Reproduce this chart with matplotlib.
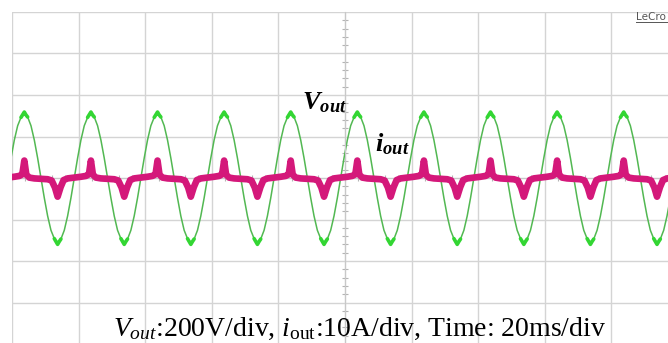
import numpy as np
import matplotlib.pyplot as plt
from matplotlib.lines import Line2D

# 波形データ (1周期分, 時間 ms)
cycle_t = [0, 1, 2, 3, 4, 4.5, 5, 5.5, 6, 7, 8, 9, 10,
           11, 12, 13, 14, 14.5, 15, 15.5, 16, 17, 18, 19, 20]
cycle_v = [0, 96, 183, 252, 292, 305, 318, 304, 294, 252, 183, 96, 0,
           -96, -183, -252, -292, -306, -320, -306, -294, -252, -183, -96, 0]

# 電流 (A)
cycle_it = [0, 2, 3.5, 4.4, 5, 5.6, 6.5, 8, 10, 12, 13.2, 14.2, 15, 15.9, 16.8, 18, 20]
cycle_i = [0.1, 0.3, 0.5, 0.9, 4.2, 0.8, 0.1, -0.1, -0.2, -0.3, -0.6, -2.3, -4.5, -2.2, -0.5, -0.1, 0.1]

# 各周期の開始時刻 (ms)
cycle_starts = [-1.3, 18.7, 38.7, 58.7, 78.7, 98.7, 118.7, 138.7, 158.7, 178.7, 198.7]

t_v = np.concatenate([s + np.array(cycle_t) for s in cycle_starts])
v = np.tile(cycle_v, len(cycle_starts))
t_i = np.concatenate([s + np.array(cycle_it) for s in cycle_starts])
i = np.tile(cycle_i, len(cycle_starts))

plt.rcParams['mathtext.fontset'] = 'custom'
plt.rcParams['mathtext.rm'] = 'Liberation Serif'
plt.rcParams['mathtext.it'] = 'Liberation Serif:italic'
plt.rcParams['mathtext.bf'] = 'Liberation Serif:bold:italic'

fig = plt.figure(figsize=(6.68, 3.43), dpi=100)
W, H = 668, 343
ax = fig.add_axes([12 / W, -1 / H, 666 / W, 332 / H])

ax.set_xlim(0, 200)
ax.set_ylim(-800, 800)
ax.set_xticks(np.arange(0, 201, 20))
ax.set_yticks(np.arange(-800, 801, 200))
ax.set_xticks(np.arange(0, 201, 4), minor=True)
ax.set_yticks(np.arange(-800, 801, 40), minor=True)
ax.grid(True, which='major', color='#d4d4d4', lw=1.0)
ax.set_axisbelow(True)

# 中央の目盛り軸
for side in ['top', 'right']:
    ax.spines[side].set_visible(False)
ax.spines['left'].set_position(('data', 100))
ax.spines['bottom'].set_position(('data', 0))
ax.spines['left'].set_color('#c8c8c8')
ax.spines['bottom'].set_color('#c8c8c8')
ax.tick_params(which='both', direction='inout', colors='#b4b4b4',
               labelleft=False, labelbottom=False)
ax.tick_params(which='major', length=0)
ax.tick_params(which='minor', length=4, width=0.8)

# 電圧
ax.plot(t_v, v, color='#52b852', lw=1.1)
mask = np.abs(v) > 285
ax.plot(np.where(mask, t_v, np.nan), np.where(mask, v, np.nan),
        color='#33d633', lw=2.6, solid_joinstyle='round', solid_capstyle='round')

# 電流
ax2 = ax.twinx()
ax2.set_ylim(-40, 40)
ax2.axis('off')
ax2.plot(t_i, i, color='#d4187a', lw=4.8, solid_joinstyle='round')

# ラベル
fig.text(302 / W, (H - 109) / H, r'$\mathbf{V_{out}}$', fontsize=19, va='baseline')
fig.text(375 / W, (H - 151) / H, r'$\mathbf{i_{out}}$', fontsize=19, va='baseline')
fig.text(360 / W, 7 / H, r'$V_{out}$:200V/div, $i_{\rm out}$:10A/div, Time: 20ms/div',
         fontsize=20, family='Liberation Serif', ha='center', va='baseline')
fig.text(636 / W, (H - 20) / H, 'LeCro', fontsize=7.5, color='#555555', va='baseline')
fig.add_artist(Line2D([636 / W, 1.0], [(H - 22) / H, (H - 22) / H],
                      color='#555555', lw=0.7))

plt.savefig('out.png', dpi=100)
